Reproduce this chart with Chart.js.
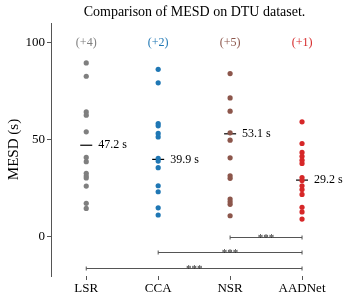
<!DOCTYPE html>
<html>
<head>
<meta charset="utf-8">
<script src="https://cdn.jsdelivr.net/npm/chart.js@4.4.1/dist/chart.umd.min.js"></script>
<style>
  html, body { margin: 0; padding: 0; background: #fff; }
  #wrap { width: 349px; height: 302px; }
</style>
</head>
<body>
<div id="wrap"><canvas id="chart"></canvas></div>
<script>
// values (MESD in seconds, per subject)
const categories = ["LSR", "CCA", "NSR", "AADNet"];
const lsrValues = [89.7, 82.8, 64.4, 62.7, 54.1, 40.9, 38.7, 32.7, 31.3, 30.3, 26.1, 17.2, 14.6];
const ccaValues = [86.4, 79.4, 58.4, 57.2, 53.3, 51.5, 40.4, 39.0, 35.6, 26.3, 23.2, 14.9, 11.2];
const nsrValues = [84.2, 71.6, 64.8, 53.6, 49.8, 40.7, 31.4, 30.1, 19.4, 18.0, 16.7, 10.8];
const aadnetValues = [59.3, 48.1, 43.5, 41.5, 39.5, 37.8, 30.5, 29.0, 26.3, 24.3, 21.8, 15.2, 12.8, 9.1];
const means = [47.2, 39.9, 53.1, 29.2];
const hiddenCounts = [4, 2, 5, 1];   // points above the plotted range
const comparePairs = [[2, 3], [1, 3], [0, 3]];
const compareStars = ["***", "***", "***"];
const yTicks = [0, 50, 100];

const colors = ["#7f7f7f", "#1f77b4", "#8c564b", "#d62728"];
const serif = "'Liberation Serif', 'DejaVu Serif', serif";
const bracketLevels = [0, -8, -16.3];

const allValues = [lsrValues, ccaValues, nsrValues, aadnetValues];

const datasets = allValues.map((vals, i) => ({
  label: categories[i],
  data: vals.map(v => ({ x: i, y: v })),
  backgroundColor: colors[i],
  borderWidth: 0,
  pointRadius: 2.6,
}));

datasets.push({
  label: "mean",
  data: means.map((m, i) => ({ x: i, y: m })),
  pointStyle: "line",
  pointRadius: 6,
  borderColor: "#000",
  borderWidth: 1.2,
});

const extras = {
  id: "extras",
  afterDatasetsDraw(chart) {
    const ctx = chart.ctx;
    const xs = chart.scales.x, ys = chart.scales.y;
    const area = chart.chartArea;
    ctx.save();

    // mean labels
    ctx.fillStyle = "#000";
    ctx.font = "12px " + serif;
    ctx.textAlign = "left";
    ctx.textBaseline = "middle";
    means.forEach((m, i) => {
      ctx.fillText(m.toFixed(1) + " s", xs.getPixelForValue(i) + 12, ys.getPixelForValue(m));
    });

    // count of points outside the range
    ctx.textAlign = "center";
    hiddenCounts.forEach((n, i) => {
      ctx.fillStyle = colors[i];
      ctx.fillText("(+" + n + ")", xs.getPixelForValue(i), ys.getPixelForValue(100));
    });

    // significance brackets
    ctx.strokeStyle = "#555";
    ctx.fillStyle = "#222";
    ctx.lineWidth = 1;
    comparePairs.forEach((p, k) => {
      const x1 = xs.getPixelForValue(p[0]), x2 = xs.getPixelForValue(p[1]);
      const y = Math.round(ys.getPixelForValue(bracketLevels[k])) + 0.5;
      ctx.beginPath();
      ctx.moveTo(x1, y); ctx.lineTo(x2, y);
      ctx.moveTo(x1, y - 2); ctx.lineTo(x1, y + 2);
      ctx.moveTo(x2, y - 2); ctx.lineTo(x2, y + 2);
      ctx.stroke();
      ctx.font = "11px " + serif;
      ctx.textBaseline = "alphabetic";
      ctx.fillText(compareStars[k], (x1 + x2) / 2, y + 3.5);
    });

    // title
    ctx.fillStyle = "#000";
    ctx.font = "14px " + serif;
    ctx.textBaseline = "middle";
    ctx.fillText("Comparison of MESD on DTU dataset.", (area.left + area.right) / 2, 12);

    // y axis title
    ctx.font = "15px " + serif;
    ctx.translate(14, (area.top + area.bottom) / 2);
    ctx.rotate(-Math.PI / 2);
    ctx.fillText("MESD (s)", 0, 0);
    ctx.restore();
  }
};

new Chart(document.getElementById("chart"), {
  type: "scatter",
  data: { datasets },
  options: {
    responsive: true,
    maintainAspectRatio: false,
    animation: false,
    layout: { padding: { top: 23, right: 11, left: 0, bottom: 0 } },
    plugins: { legend: { display: false }, tooltip: { enabled: false } },
    scales: {
      x: {
        type: "linear",
        min: -0.49,
        max: 3.5,
        afterBuildTicks: s => { s.ticks = categories.map((c, i) => ({ value: i })); },
        afterFit: s => { s.height = 26; },
        ticks: {
          callback: v => categories[v],
          color: "#000",
          font: { family: serif, size: 13 },
          padding: 1,
        },
        grid: { display: true, drawOnChartArea: false, drawTicks: true, tickLength: 4, color: "#555" },
        border: { display: false },
      },
      y: {
        min: -20.3,
        max: 110.3,
        afterBuildTicks: s => { s.ticks = yTicks.map(v => ({ value: v })); },
        afterFit: s => { s.width = 51; },
        ticks: {
          color: "#000",
          font: { family: serif, size: 13 },
          padding: 2,
        },
        grid: { display: true, drawOnChartArea: false, drawTicks: true, tickLength: 4, color: "#555" },
        border: { display: true, color: "#555", width: 1 },
      },
    },
  },
  plugins: [extras],
});
</script>
</body>
</html>
